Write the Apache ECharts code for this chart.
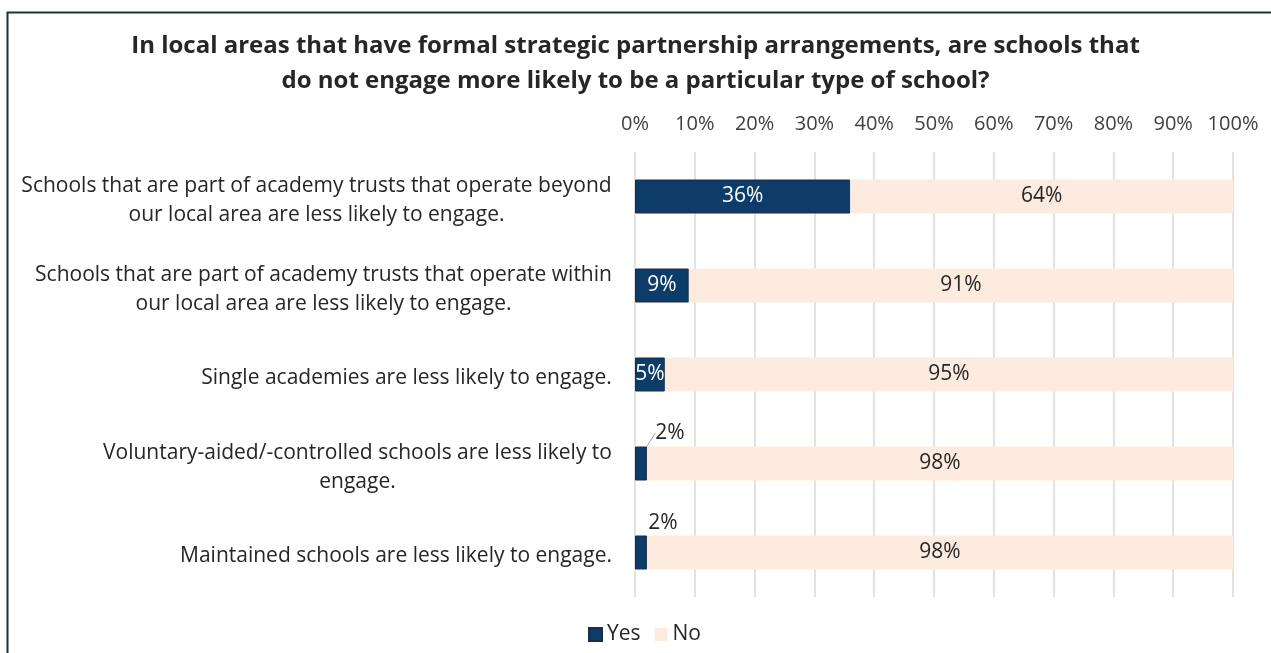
<!DOCTYPE html>
<html>
<head>
<meta charset="utf-8">
<script src="https://cdn.jsdelivr.net/npm/echarts@6/dist/echarts.min.js"></script>
<style>
  html, body { margin: 0; padding: 0; background: #ffffff; }
  #chart { width: 1271px; height: 653px; }
</style>
</head>
<body>
<div id="chart"></div>
<script>
// Survey categories (one per row, top to bottom)
const categories = [
  'Schools that are part of academy trusts that operate beyond\nour local area are less likely to engage.',
  'Schools that are part of academy trusts that operate within\nour local area are less likely to engage.',
  'Single academies are less likely to engage.',
  'Voluntary-aided/-controlled schools are less likely to\nengage.',
  'Maintained schools are less likely to engage.'
];
// Share of responses (%)
const yesValues = [36, 9, 5, 2, 2];
const noValues = [64, 91, 95, 98, 98];
const seriesNames = ['Yes', 'No'];
const axisTicks = [0, 10, 20, 30, 40, 50, 60, 70, 80, 90, 100];

const FONT = 'Open Sans';
const LABEL_SIZE = 21;
const TEXT = '#262626';

// Each multi-line category label is centred within the width of its longest line
const measureCtx = document.createElement('canvas').getContext('2d');
measureCtx.font = LABEL_SIZE + 'px "' + FONT + '"';
const catRich = {};
categories.forEach((c, i) => {
  const w = Math.max(...c.split('\n').map(l => measureCtx.measureText(l).width));
  catRich['c' + i] = { width: Math.ceil(w), align: 'center', fontSize: LABEL_SIZE, fontFamily: FONT, color: TEXT, lineHeight: 29 };
});

const chart = echarts.init(document.getElementById('chart'));
chart.setOption({
  animation: false,
  backgroundColor: '#ffffff',
  textStyle: { fontFamily: FONT },
  graphic: [{
    type: 'rect',
    shape: { x: 7.5, y: 12.5, width: 1300, height: 700 },
    style: { fill: 'none', stroke: '#1f2e40', lineWidth: 2 },
    silent: true
  }],
  title: {
    text: 'In local areas that have formal strategic partnership arrangements, are schools that\ndo not engage more likely to be a particular type of school?',
    left: 'center',
    top: 29,
    padding: [0, 0, 0, 12],
    textStyle: { fontFamily: FONT, fontSize: 24, fontWeight: 'bold', color: TEXT, lineHeight: 35, align: 'center' }
  },
  legend: {
    data: seriesNames,
    bottom: 3,
    left: 583,
    itemWidth: 13,
    itemHeight: 13,
    itemGap: 14,
    icon: 'rect',
    textStyle: { fontFamily: FONT, fontSize: LABEL_SIZE, color: TEXT, padding: [4, 0, 0, 0] }
  },
  grid: { left: 635, right: 38, top: 152, bottom: 56, containLabel: false },
  xAxis: {
    type: 'value',
    position: 'top',
    min: axisTicks[0],
    max: axisTicks[axisTicks.length - 1],
    interval: axisTicks[1] - axisTicks[0],
    axisLine: { show: false },
    axisTick: { show: false },
    splitLine: { show: true, lineStyle: { color: '#d9d9d9', width: 1.5 } },
    axisLabel: { formatter: '{value}%', fontFamily: FONT, fontSize: 20, color: '#404040', margin: 18 }
  },
  yAxis: {
    type: 'category',
    inverse: true,
    data: categories,
    axisLine: { show: false },
    axisTick: { show: false },
    axisLabel: {
      margin: 23,
      padding: [8, 0, 0, 0],
      formatter: (v, i) => v.split('\n').map(l => '{c' + i + '|' + l + '}').join('\n'),
      rich: catRich
    }
  },
  labelLayout: function (p) {
    if (p.seriesIndex === 0 && p.dataIndex === 3) {
      return { dx: 29, dy: -1 };
    }
    if (p.seriesIndex === 0 && p.dataIndex === 4) {
      return { dx: 22, dy: 0 };
    }
  },
  series: [
    {
      name: seriesNames[0],
      type: 'bar',
      stack: 'total',
      barWidth: 34,
      data: yesValues.map((v, i) => {
        const item = { value: v };
        if (i >= 3) {
          item.label = { position: 'top', color: TEXT, distance: 2, offset: [0, 0] };
        }
        if (i === 3) {
          item.labelLine = { show: true, lineStyle: { color: '#a6a6a6', width: 1 } };
        }
        return item;
      }),
      itemStyle: { color: '#0d3c69', borderColor: '#1b2d44', borderWidth: 1 },
      label: {
        show: true,
        position: 'inside',
        formatter: '{c}%',
        color: '#ffffff',
        fontFamily: FONT,
        fontSize: LABEL_SIZE,
        offset: [0, 3]
      },
      labelLine: { show: false }
    },
    {
      name: seriesNames[1],
      type: 'bar',
      stack: 'total',
      barWidth: 34,
      data: noValues,
      itemStyle: { color: '#fcebde' },
      label: {
        show: true,
        position: 'inside',
        formatter: '{c}%',
        color: TEXT,
        fontFamily: FONT,
        fontSize: LABEL_SIZE,
        offset: [0, 3]
      }
    }
  ]
});
</script>
</body>
</html>
